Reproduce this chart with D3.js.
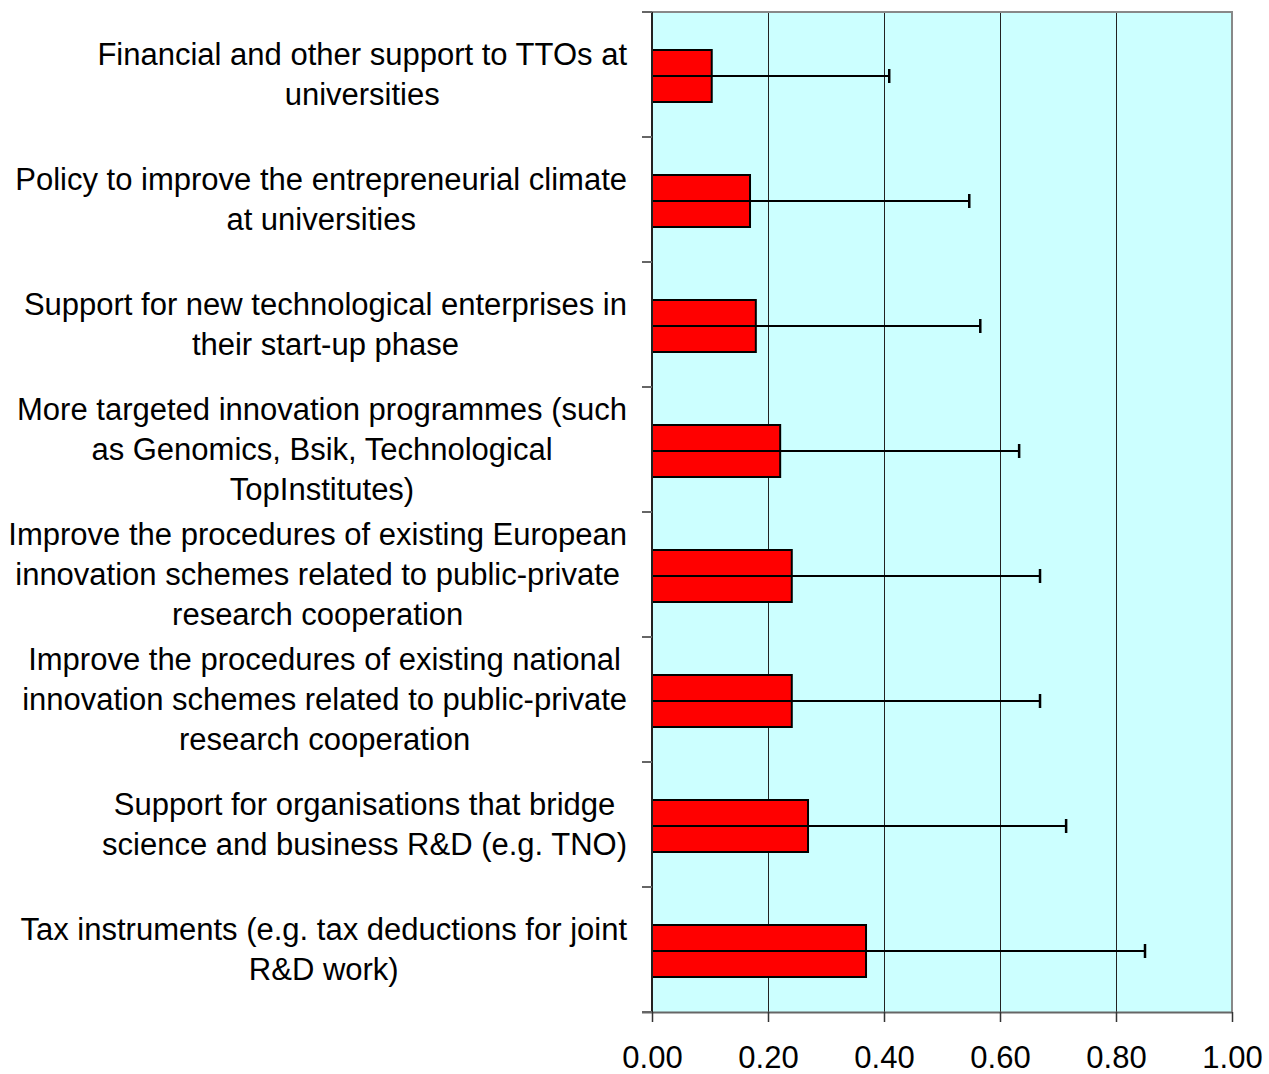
<!DOCTYPE html>
<html>
<head>
<meta charset="utf-8">
<script src="https://cdn.jsdelivr.net/npm/d3@7"></script>
<style>
body { margin: 0; background: #fff; }
text { font-family: "Liberation Sans", Arial, sans-serif; }
</style>
</head>
<body>
<div id="chart"></div>
<script>
// category labels, already split into the lines seen in the chart
var categories = [
	["Financial and other support to TTOs at", "universities"],
	["Policy to improve the entrepreneurial climate", "at universities"],
	["Support for new technological enterprises in", "their start-up phase"],
	["More targeted innovation programmes (such", "as Genomics, Bsik, Technological", "TopInstitutes)"],
	["Improve the procedures of existing European", "innovation schemes related to public-private", "research cooperation"],
	["Improve the procedures of existing national", "innovation schemes related to public-private", "research cooperation"],
	["Support for organisations that bridge", "science and business R&D (e.g. TNO)"],
	["Tax instruments (e.g. tax deductions for joint", "R&D work)"]
];

var values = [0.103, 0.169, 0.179, 0.221, 0.241, 0.241, 0.269, 0.369];
var errorEnds = [0.409, 0.547, 0.566, 0.633, 0.669, 0.669, 0.714, 0.850];
var tickValues = [0, 0.2, 0.4, 0.6, 0.8, 1.0];

var width = 1269,
	height = 1074;
var plot = {left: 652, right: 1232, top: 12, bottom: 1012};
var fontSize = 31;

var svg = d3.select("#chart")
	.append("svg")
	.attr("width", width)
	.attr("height", height);

var x = d3.scaleLinear()
	.domain([0, 1])
	.range([plot.left, plot.right]);

var y = d3.scaleBand()
	.domain(d3.range(categories.length))
	.range([plot.top, plot.bottom]);

// background
svg.append('rect')
	.attr('x', plot.left)
	.attr('y', plot.top)
	.attr('width', plot.right - plot.left)
	.attr('height', plot.bottom - plot.top)
	.attr('fill', '#ccffff');

// gridlines
svg.selectAll('.grid')
	.data(tickValues.slice(1, -1))
	.enter()
	.append('line')
	.attr('x1', d => Math.round(x(d)) + 0.5)
	.attr('x2', d => Math.round(x(d)) + 0.5)
	.attr('y1', plot.top)
	.attr('y2', plot.bottom)
	.attr('stroke', '#222')
	.attr('stroke-width', 1);

// plot border (top and right)
svg.append('path')
	.attr('d', `M${plot.left - 10},${plot.top}H${plot.right}V${plot.bottom}`)
	.attr('fill', 'none')
	.attr('stroke', '#888')
	.attr('stroke-width', 2);

// bars
var barH = 52;
svg.selectAll('.bar')
	.data(values)
	.enter()
	.append('rect')
	.attr('x', x(0))
	.attr('y', (d, i) => y(i) + y.bandwidth() / 2 - barH / 2 + 1.5)
	.attr('width', d => x(d) - x(0))
	.attr('height', barH)
	.attr('fill', '#ff0000')
	.attr('stroke', '#000')
	.attr('stroke-width', 2);

// error bars
var errs = svg.selectAll('.err')
	.data(errorEnds)
	.enter()
	.append('g')
	.attr('transform', (d, i) => `translate(0, ${y(i) + y.bandwidth() / 2 + 1.5})`);

errs.append('line')
	.attr('x1', x(0))
	.attr('x2', d => x(d))
	.attr('stroke', '#000')
	.attr('stroke-width', 2);

errs.append('line')
	.attr('x1', d => x(d))
	.attr('x2', d => x(d))
	.attr('y1', -7)
	.attr('y2', 7)
	.attr('stroke', '#000')
	.attr('stroke-width', 2.5);

// x axis
var xAxis = d3.axisBottom(x)
	.tickValues(tickValues)
	.tickFormat(d3.format('.2f'))
	.tickSize(10)
	.tickSizeOuter(0);

var gx = svg.append('g')
	.attr('transform', `translate(0, ${plot.bottom})`)
	.call(xAxis);
gx.select('.domain')
	.attr('d', `M${plot.left - 10},0.5H${plot.right}`)
	.attr('stroke', '#666')
	.attr('stroke-width', 2);
gx.selectAll('.tick line').attr('stroke', '#333').attr('stroke-width', 1.5);
gx.selectAll('.tick text')
	.attr('y', 45)
	.attr('dy', '0.35em')
	.attr('font-size', fontSize)
	.attr('font-family', '"Liberation Sans", Arial, sans-serif')
	.attr('fill', '#000');

// y axis (ticks at band boundaries)
var bounds = d3.range(categories.length + 1).map(i => plot.top + i * y.step());
svg.append('line')
	.attr('x1', plot.left)
	.attr('x2', plot.left)
	.attr('y1', plot.top)
	.attr('y2', plot.bottom)
	.attr('stroke', '#222')
	.attr('stroke-width', 2);
svg.selectAll('.ytick')
	.data(bounds)
	.enter()
	.append('line')
	.attr('x1', plot.left - 10)
	.attr('x2', plot.left)
	.attr('y1', d => d)
	.attr('y2', d => d)
	.attr('stroke', '#666')
	.attr('stroke-width', 2);

// category labels: centered block, right edge at 627
var lineH = 40;
var labels = svg.selectAll('.label')
	.data(categories)
	.enter()
	.append('g');

labels.each(function(lines, i) {
	var g = d3.select(this);
	var cy = y(i) + y.bandwidth() / 2;
	var texts = g.selectAll('text')
		.data(lines)
		.enter()
		.append('text')
		.attr('font-size', fontSize)
		.attr('fill', '#000')
		.attr('text-anchor', 'middle')
		.attr('dy', '0.35em')
		.attr('y', (d, j) => cy + (j - (lines.length - 1) / 2) * lineH)
		.text(d => d);
	var maxW = d3.max(texts.nodes(), n => n.getComputedTextLength());
	texts.attr('x', 627 - maxW / 2);
});
</script>
</body>
</html>
